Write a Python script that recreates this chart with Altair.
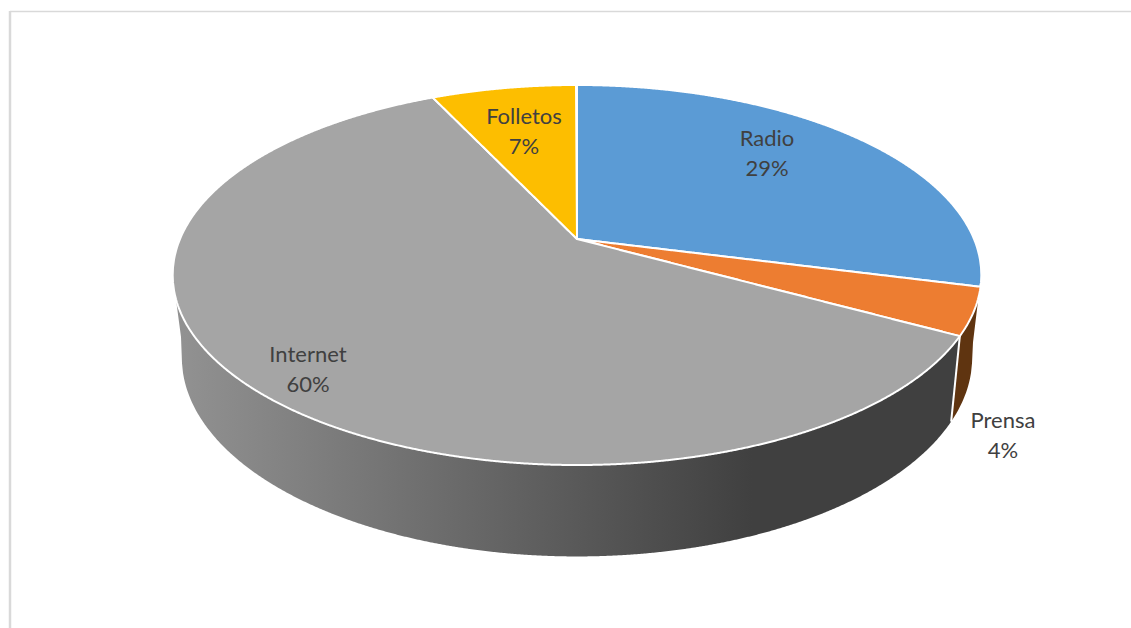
import altair as alt
import numpy as np
import pandas as pd

# Survey shares, clockwise from twelve o'clock
names = ["Radio", "Prensa", "Internet", "Folletos"]
shares = [29, 4, 60, 7]
fills = ["#5b9bd5", "#ed7d31", "#a5a5a5", "#fdbe00"]

W, H = 1131, 628
CX = 577

# Perspective disc: (half width, y slope, y offset); both rims share one tilt
TILT = -0.1895
TOP_RIM = (397.0, 137.9, 239.0)
BOTTOM_RIM = (388.0, 131.0, 320.0)

# Text anchor of each label (first line of the two)
label_anchor = {
    "Radio": (767, 139),
    "Prensa": (1003, 421),
    "Internet": (308, 355),
    "Folletos": (524, 117),
}


def project(theta_deg, rim):
    """Map a disc angle (degrees clockwise from the back) through the tilted view."""
    half, slope, offset = rim
    t = np.radians(theta_deg)
    u, v = np.sin(t), -np.cos(t)
    w = TILT * v + 1
    return CX + half * u / w, (slope * v + offset) / w


def apex(rim):
    return CX, rim[2]


def columns(xs, ys):
    """Turn a closed outline into one top/bottom interval per x, as an area mark needs."""
    xs, ys = np.asarray(xs, float), np.asarray(ys, float)
    x0, y0 = xs, ys
    x1, y1 = np.roll(xs, -1), np.roll(ys, -1)
    grid = np.unique(np.concatenate([np.arange(np.ceil(xs.min()), xs.max(), 1.0), [xs.min(), xs.max()]]))
    rows = []
    for x in grid:
        hit = (np.minimum(x0, x1) <= x) & (x <= np.maximum(x0, x1)) & (x0 != x1)
        if not hit.any():
            continue
        yy = y0[hit] + (x - x0[hit]) * (y1[hit] - y0[hit]) / (x1[hit] - x0[hit])
        rows.append({"x": x, "top": yy.min(), "bottom": yy.max()})
    return pd.DataFrame(rows)


x_enc = alt.X("x:Q", axis=None, scale=alt.Scale(domain=[0, W], nice=False, zero=False))
y_scale = alt.Scale(domain=[0, H], reverse=True, nice=False, zero=False)


def area_layer(frame, **mark):
    return alt.Chart(frame).mark_area(interpolate="linear", **mark).encode(
        x=x_enc,
        y=alt.Y("top:Q", axis=None, scale=y_scale, stack=None),
        y2=alt.Y2("bottom:Q"),
    )


# Slice boundaries in degrees
edges = np.cumsum([0] + shares) * 3.6

layers = []

# Side wall below the Internet slice, shaded from left to right
wall_end = edges[2]
wall_top = project(np.linspace(wall_end, 252, 300), TOP_RIM)
wall_low = project(np.linspace(262, wall_end, 300), BOTTOM_RIM)
wall = columns(np.r_[wall_top[0], wall_low[0]], np.r_[wall_top[1], wall_low[1]])
layers.append(
    area_layer(
        wall,
        fill=alt.Gradient(
            gradient="linear",
            x1=0, x2=1, y1=0, y2=0,
            stops=[
                alt.GradientStop(color="#929292", offset=0),
                alt.GradientStop(color="#404040", offset=0.735),
                alt.GradientStop(color="#404040", offset=1),
            ],
        ),
    )
)

# Side wall below the Prensa slice
side_top = project(np.linspace(107.6, wall_end, 60), TOP_RIM)
side_low = project(np.linspace(wall_end, 99, 60), BOTTOM_RIM)
side = columns(np.r_[side_top[0], side_low[0]], np.r_[side_top[1], side_low[1]])
layers.append(area_layer(side, fill="#5f3410"))

# White seam between the two wall pieces
seam_x, seam_y = zip(project(wall_end, TOP_RIM), project(wall_end, BOTTOM_RIM))
seam = pd.DataFrame({"x": seam_x, "y": seam_y})
layers.append(
    alt.Chart(seam).mark_line(color="white", strokeWidth=2).encode(
        x=x_enc, y=alt.Y("y:Q", axis=None, scale=y_scale)
    )
)

# Top face of each slice
for i, colour in enumerate(fills):
    arc = project(np.linspace(edges[i], edges[i + 1], 400), TOP_RIM)
    cx, cy = apex(TOP_RIM)
    face = columns(np.r_[cx, arc[0]], np.r_[cy, arc[1]])
    layers.append(area_layer(face, fill=colour, stroke="white", strokeWidth=2, strokeJoin="round"))

# Category and percentage labels
labels = pd.DataFrame(
    {
        "x": [label_anchor[n][0] for n in names],
        "y": [label_anchor[n][1] for n in names],
        "text": [f"{n}\n{s}%" for n, s in zip(names, shares)],
    }
)
layers.append(
    alt.Chart(labels)
    .mark_text(font="Lato", fontSize=22, color="#404040", lineBreak="\n", lineHeight=30, align="center", baseline="middle")
    .encode(x=x_enc, y=alt.Y("y:Q", axis=None, scale=y_scale), text="text:N")
)

# Thin frame along the top and left sides
frame_top = alt.Chart(pd.DataFrame({"k": [0]})).mark_rule(color="#d9d9d9", strokeWidth=1.5).encode(
    x=alt.value(10), x2=alt.value(W), y=alt.value(11.5)
)
frame_left = alt.Chart(pd.DataFrame({"k": [0]})).mark_rule(color="#d9d9d9", strokeWidth=2.5).encode(
    x=alt.value(10), y=alt.value(11), y2=alt.value(H)
)
layers.extend([frame_top, frame_left])

chart = (
    alt.layer(*layers)
    .properties(width=W, height=H, padding=0, autosize=alt.AutoSizeParams(type="none"), background="white")
    .configure_view(stroke=None)
)

chart.save("out.html", embed_options={"renderer": "svg", "actions": False})
